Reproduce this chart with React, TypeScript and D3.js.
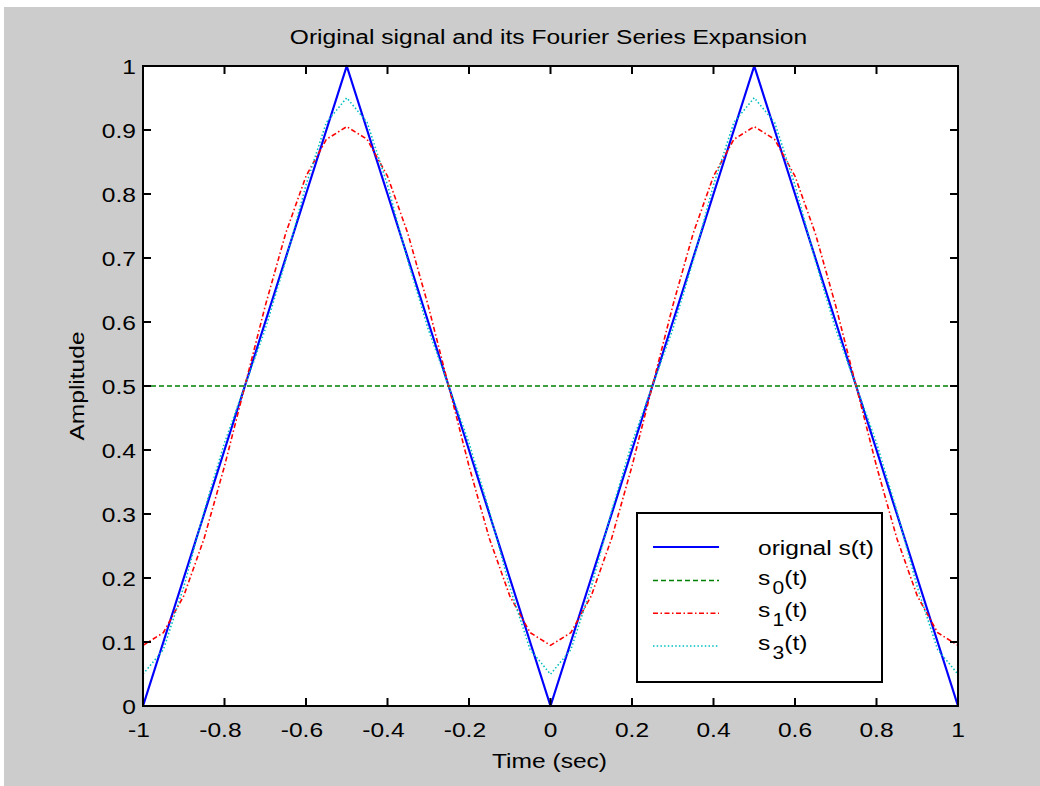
import React from "react";
import * as d3 from "d3";

// ---- data ----
const timeValues = [
  -1, -0.95, -0.9, -0.85, -0.8, -0.75, -0.7, -0.65, -0.6, -0.55, -0.5,
  -0.45, -0.4, -0.35, -0.3, -0.25, -0.2, -0.15, -0.1, -0.05, 0,
  0.05, 0.1, 0.15, 0.2, 0.25, 0.3, 0.35, 0.4, 0.45, 0.5,
  0.55, 0.6, 0.65, 0.7, 0.75, 0.8, 0.85, 0.9, 0.95, 1,
];
const originalSignal = [
  0, 0.1, 0.2, 0.3, 0.4, 0.5, 0.6, 0.7, 0.8, 0.9, 1,
  0.9, 0.8, 0.7, 0.6, 0.5, 0.4, 0.3, 0.2, 0.1, 0,
  0.1, 0.2, 0.3, 0.4, 0.5, 0.6, 0.7, 0.8, 0.9, 1,
  0.9, 0.8, 0.7, 0.6, 0.5, 0.4, 0.3, 0.2, 0.1, 0,
];
const s0Values = [
  0.5, 0.5, 0.5, 0.5, 0.5, 0.5, 0.5, 0.5, 0.5, 0.5, 0.5,
  0.5, 0.5, 0.5, 0.5, 0.5, 0.5, 0.5, 0.5, 0.5, 0.5,
  0.5, 0.5, 0.5, 0.5, 0.5, 0.5, 0.5, 0.5, 0.5, 0.5,
  0.5, 0.5, 0.5, 0.5, 0.5, 0.5, 0.5, 0.5, 0.5, 0.5,
];
const s1Values = [
  0.0947, 0.1146, 0.1721, 0.2618, 0.3748, 0.5, 0.6252, 0.7382, 0.8279, 0.8854, 0.9053,
  0.8854, 0.8279, 0.7382, 0.6252, 0.5, 0.3748, 0.2618, 0.1721, 0.1146, 0.0947,
  0.1146, 0.1721, 0.2618, 0.3748, 0.5, 0.6252, 0.7382, 0.8279, 0.8854, 0.9053,
  0.8854, 0.8279, 0.7382, 0.6252, 0.5, 0.3748, 0.2618, 0.1721, 0.1146, 0.0947,
];
const s3Values = [
  0.0497, 0.0881, 0.186, 0.3046, 0.4112, 0.5, 0.5888, 0.6954, 0.814, 0.9119, 0.9503,
  0.9119, 0.814, 0.6954, 0.5888, 0.5, 0.4112, 0.3046, 0.186, 0.0881, 0.0497,
  0.0881, 0.186, 0.3046, 0.4112, 0.5, 0.5888, 0.6954, 0.814, 0.9119, 0.9503,
  0.9119, 0.814, 0.6954, 0.5888, 0.5, 0.4112, 0.3046, 0.186, 0.0881, 0.0497,
];
const xTicks = [-1, -0.8, -0.6, -0.4, -0.2, 0, 0.2, 0.4, 0.6, 0.8, 1];
const xTickLabels = ["-1", "-0.8", "-0.6", "-0.4", "-0.2", "0", "0.2", "0.4", "0.6", "0.8", "1"];
const yTicks = [0, 0.1, 0.2, 0.3, 0.4, 0.5, 0.6, 0.7, 0.8, 0.9, 1];
const yTickLabels = ["0", "0.1", "0.2", "0.3", "0.4", "0.5", "0.6", "0.7", "0.8", "0.9", "1"];
const legendBase = ["orignal s(t)", "s", "s", "s"];
const legendSub = ["", "0", "1", "3"];
const legendTail = ["", "(t)", "(t)", "(t)"];
const titleText = "Original signal and its Fourier Series Expansion";
const xLabelText = "Time (sec)";
const yLabelText = "Amplitude";

// ---- style ----
const FONT = "'Liberation Sans', Arial, Helvetica, sans-serif";
const FS = 21;
const STRETCH = 1.17;
const seriesStyles = [
  { color: "#0000ff", dash: "none", width: 2.2 },
  { color: "#008000", dash: "5,3", width: 1.6 },
  { color: "#ff0000", dash: "5,2.5,1.5,2.5", width: 1.6 },
  { color: "#00bfbf", dash: "1.5,2.2", width: 1.6 },
];

function SText(props: {
  x: number; y: number; anchor?: string; rotate?: number; size?: number; children: React.ReactNode;
}) {
  const { x, y, anchor = "start", rotate = 0, size = FS, children } = props;
  return (
    <text
      transform={`translate(${x},${y}) rotate(${rotate}) scale(${STRETCH},1)`}
      textAnchor={anchor}
      fontFamily={FONT}
      fontSize={size}
      fill="#000"
    >
      {children}
    </text>
  );
}

export default function App() {
  const L = 143, R = 958, T = 66, B = 706;
  const x = d3.scaleLinear().domain([-1, 1]).range([L, R]);
  const y = d3.scaleLinear().domain([0, 1]).range([B, T]);
  const lineGen = d3
    .line<number>()
    .x((_, i) => x(timeValues[i]))
    .y((d) => y(d));
  const series = [originalSignal, s0Values, s1Values, s3Values];
  const tickLen = 8;
  const minusShift = (0.333 * FS * STRETCH) / 2;

  // legend layout
  const lg = { x0: 637, x1: 882, y0: 513, y1: 682, lineX0: 653, lineX1: 719, textX: 758 };
  const rowY = [547, 580.5, 613.3, 646];

  return (
    <div style={{ position: "absolute", left: 0, top: 0 }}>
      <svg width={1040} height={786} style={{ display: "block" }}>
        <rect x={0} y={0} width={1040} height={786} fill="#ffffff" />
        <rect x={4} y={7} width={1036} height={779} fill="#cccccc" />
        <rect x={L} y={T} width={R - L} height={B - T} fill="#ffffff" />

        {/* series */}
        {series.map((vals, i) => (
          <path
            key={i}
            d={lineGen(vals) || ""}
            fill="none"
            stroke={seriesStyles[i].color}
            strokeWidth={seriesStyles[i].width}
            strokeDasharray={seriesStyles[i].dash}
            strokeLinejoin="round"
          />
        ))}

        {/* axes box */}
        <rect x={L} y={T} width={R - L} height={B - T} fill="none" stroke="#000" strokeWidth={2} />
        {xTicks.map((t, i) => (
          <g key={"xt" + i}>
            <line x1={x(t)} x2={x(t)} y1={B} y2={B - tickLen} stroke="#000" strokeWidth={2} />
            <line x1={x(t)} x2={x(t)} y1={T} y2={T + tickLen} stroke="#000" strokeWidth={2} />
            <SText x={x(t) - (t < 0 ? minusShift : 0)} y={737} anchor="middle">
              {xTickLabels[i]}
            </SText>
          </g>
        ))}
        {yTicks.map((t, i) => (
          <g key={"yt" + i}>
            <line x1={L} x2={L + tickLen} y1={y(t)} y2={y(t)} stroke="#000" strokeWidth={2} />
            <line x1={R} x2={R - tickLen} y1={y(t)} y2={y(t)} stroke="#000" strokeWidth={2} />
            <SText x={136} y={y(t) + 7.5} anchor="end">
              {yTickLabels[i]}
            </SText>
          </g>
        ))}

        {/* titles */}
        <SText x={(L + R) / 2 - 2} y={44} anchor="middle">
          {titleText}
        </SText>
        <SText x={(L + R) / 2 - 1} y={768} anchor="middle">
          {xLabelText}
        </SText>
        <SText x={84} y={(T + B) / 2} anchor="middle" rotate={-90}>
          {yLabelText}
        </SText>

        {/* legend */}
        <rect
          x={lg.x0}
          y={lg.y0}
          width={lg.x1 - lg.x0}
          height={lg.y1 - lg.y0}
          fill="#ffffff"
          stroke="#000"
          strokeWidth={2}
        />
        {seriesStyles.map((s, i) => (
          <g key={"lg" + i}>
            <line
              x1={lg.lineX0}
              x2={lg.lineX1}
              y1={rowY[i]}
              y2={rowY[i]}
              stroke={s.color}
              strokeWidth={s.width}
              strokeDasharray={s.dash}
            />
            <SText x={lg.textX} y={rowY[i] + (legendSub[i] ? 4 : 8)}>
              {legendBase[i]}
              {legendSub[i] ? (
                <tspan fontSize={18} dy={9} dx={2}>
                  {legendSub[i]}
                </tspan>
              ) : null}
              {legendTail[i] ? <tspan dy={-9}>{legendTail[i]}</tspan> : null}
            </SText>
          </g>
        ))}
      </svg>
    </div>
  );
}
